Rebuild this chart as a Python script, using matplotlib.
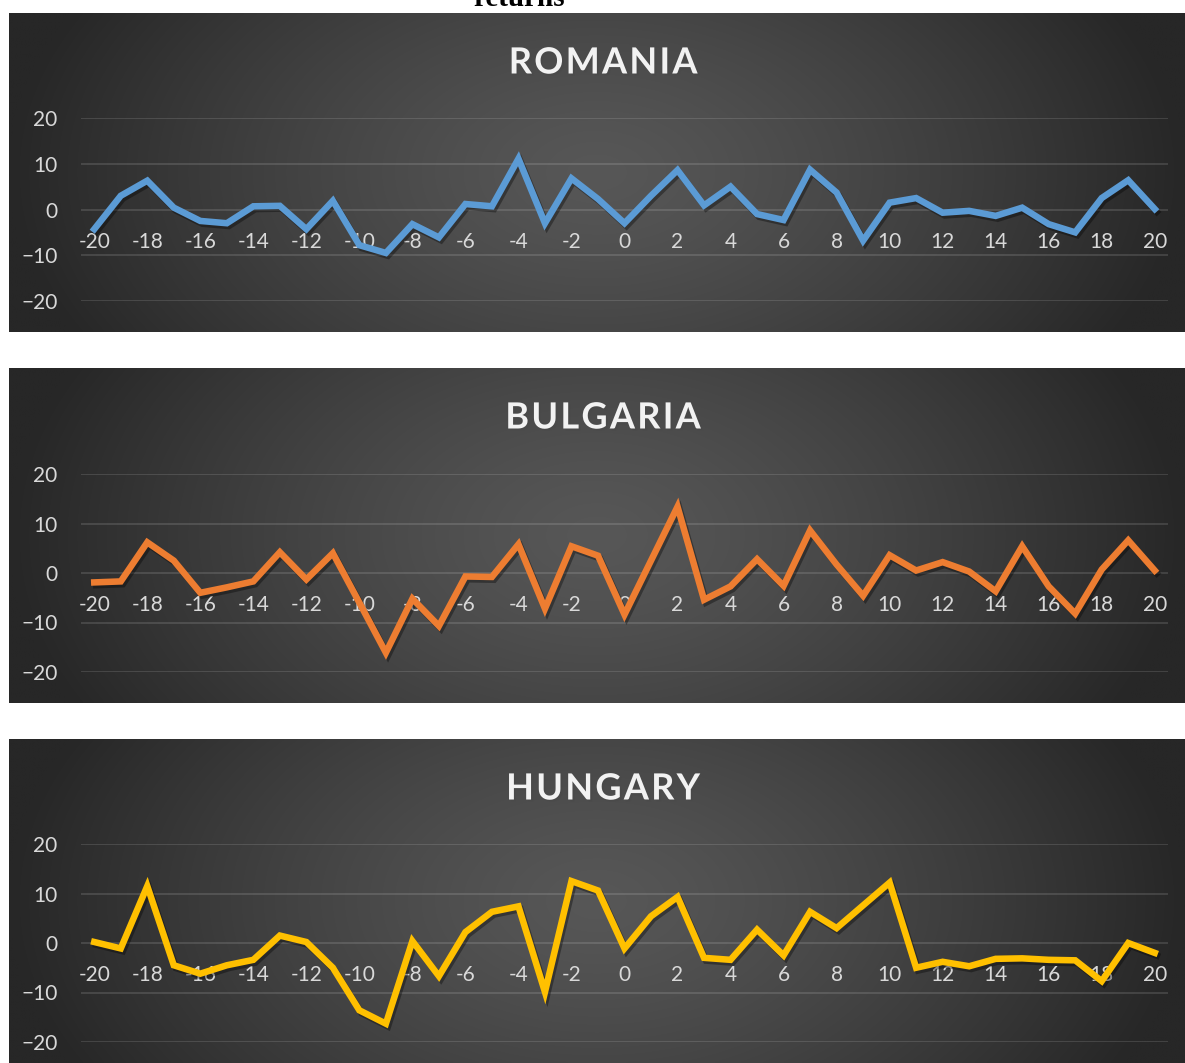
import numpy as np
import matplotlib.pyplot as plt
import matplotlib.patheffects as pe

days = list(range(-20, 21))

romania = [-4.3, 3.0, 6.3, 0.4, -2.5, -3.0, 0.7, 0.8, -4.3, 1.9,
           -7.8, -9.5, -3.2, -6.1, 1.2, 0.7, 11.1, -3.0, 6.8, 2.3,
           -3.0, 3.0, 8.6, 0.9, 5.0, -1.0, -2.3, 8.7, 3.7, -6.8,
           1.5, 2.5, -0.7, -0.3, -1.4, 0.4, -3.2, -5.0, 2.5, 6.4, 0.1]

bulgaria = [-1.9, -1.7, 6.2, 2.5, -4.0, -2.9, -1.7, 4.2, -1.3, 4.0,
            -6.0, -16.1, -5.2, -10.7, -0.7, -0.8, 5.8, -7.2, 5.4, 3.5,
            -8.4, 2.5, 13.4, -5.4, -2.7, 2.8, -2.6, 8.6, 1.7, -4.6,
            3.6, 0.5, 2.2, 0.3, -3.7, 5.4, -2.7, -8.2, 0.7, 6.6, 0.5]

hungary = [0.2, -1.1, 11.5, -4.5, -6.2, -4.5, -3.4, 1.5, 0.2, -5.0,
           -13.6, -16.3, 0.4, -6.7, 2.2, 6.3, 7.4, -9.9, 12.5, 10.6,
           -1.1, 5.4, 9.3, -3.0, -3.4, 2.7, -2.5, 6.3, 3.0, 7.6,
           12.2, -5.0, -3.8, -4.7, -3.2, -3.1, -3.4, -3.5, -7.7, 0.0, -2.0]

titles = ["ROMANIA", "BULGARIA", "HUNGARY"]
series = [romania, bulgaria, hungary]
colors = ["#5b9bd5", "#ed7d31", "#ffc000"]
yticks = [-20, -10, 0, 10, 20]

W, H = 1185, 1063
fig = plt.figure(figsize=(W / 100, H / 100), dpi=100)
fig.patch.set_facecolor("white")

# pixel boxes: panel (left, top, right, bottom), plot area top/bottom, title y
panels = [(9, 13, 1185, 332, 118, 301, 63),
          (9, 368, 1185, 703, 474, 672, 418),
          (9, 739, 1185, 1063, 844, 1042, 789)]
plot_left, plot_right = 81, 1168


def frac(l, t, r, b):
    return [l / W, 1 - b / H, (r - l) / W, (b - t) / H]


# radial-ish gradient for the dark chart background
gx = np.linspace(-1, 1, 400)
gy = np.linspace(-1, 1, 120)
XX, YY = np.meshgrid(gx, gy)
dist = np.clip(np.sqrt(XX ** 2 + 0.2 * YY ** 2), 0, 1)
grad = 0x57 + (0x27 - 0x57) * dist ** 1.3
img = np.dstack([grad, grad, grad]) / 255.0

fig.text(519 / W, 1 - 6 / H, "returns", ha="center", va="baseline",
         fontsize=21, fontweight="bold", family="Liberation Serif", color="black")

for (l, t, r, b, ptop, pbot, ty), name, vals, c in zip(panels, titles, series, colors):
    bg = fig.add_axes(frac(l, t, r, b))
    bg.imshow(img, aspect="auto", extent=[0, 1, 0, 1], interpolation="bilinear")
    bg.set_axis_off()

    ax = fig.add_axes(frac(plot_left, ptop, plot_right, pbot))
    ax.set_facecolor("none")
    ax.plot(days, vals, color=c, lw=4.7, solid_joinstyle="miter",
            path_effects=[pe.SimpleLineShadow(offset=(1.5, -2), alpha=0.35, shadow_color="black"),
                          pe.Normal()])
    ax.set_xlim(-20.5, 20.5)
    ax.set_ylim(-20, 20)
    ax.set_yticks(yticks)
    ax.set_xticks(days)
    ax.set_xticklabels([str(d) if d % 2 == 0 else "" for d in days])
    ax.grid(axis="y", color="white", alpha=0.13, lw=1.4)
    ax.set_axisbelow(True)
    for s in ax.spines.values():
        s.set_visible(False)
    ax.spines["bottom"].set_position(("data", 0))
    ax.tick_params(axis="both", length=0, colors="#d9d9d9", labelsize=15)
    ax.tick_params(axis="y", pad=17)
    ax.tick_params(axis="x", pad=16)
    for lab in ax.get_xticklabels() + ax.get_yticklabels():
        lab.set_family("Lato")

    spaced = "\u200a".join(name)
    fig.text(603 / W, 1 - ty / H, spaced, ha="center", va="center",
             fontsize=26, fontweight="bold", family=["Lato", "DejaVu Sans"], color="#f2f2f2",
             path_effects=[pe.withSimplePatchShadow(offset=(1.5, -1.5), alpha=0.5)])

fig.savefig("out.png", dpi=100, facecolor="white")
